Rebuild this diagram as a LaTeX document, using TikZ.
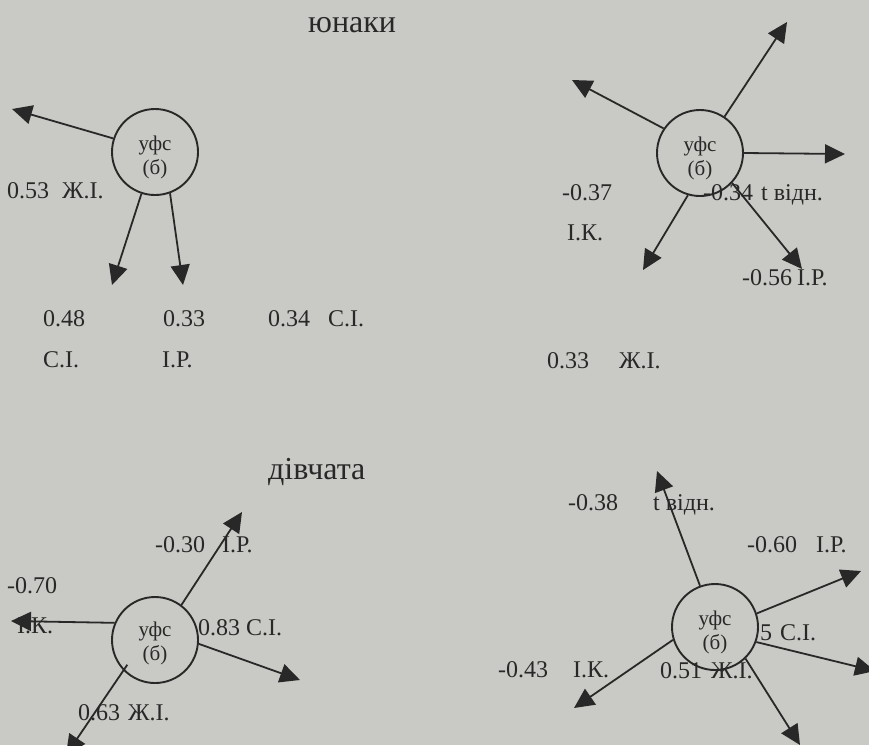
\documentclass[tikz,border=0pt]{standalone}
\usepackage{fontspec}
\setmainfont{Liberation Serif}
\usetikzlibrary{arrows.meta}
\definecolor{paper}{RGB}{201,201,197}
\definecolor{ink}{RGB}{40,40,40}
\begin{document}
\begin{tikzpicture}[x=1pt,y=-1pt,
  hub/.style={circle,draw=ink,line width=1.9pt,minimum size=86pt,inner sep=0pt,
    align=center,font=\fontsize{21}{24}\selectfont,text=ink},
  ray/.style={draw=ink,line width=1.8pt,-{Triangle[length=20pt,width=19pt]}},
  lab/.style={anchor=base west,inner sep=0pt,font=\fontsize{24}{28}\selectfont,text=ink},
  ttl/.style={anchor=base west,inner sep=0pt,font=\fontsize{32}{36}\selectfont,text=ink}]
\fill[paper] (0,0) rectangle (869,745);
\useasboundingbox (0,0) rectangle (869,745);

% titles
\node[ttl] (t1) at (308,32) {юнаки};
\node[ttl] (t2) at (268,479) {дівчата};

% hubs
\node[hub] (c1) at (155,152) {\rule{0pt}{26pt}уфс\\(б)};
\node[hub] (c2) at (700,153) {\rule{0pt}{26pt}уфс\\(б)};
\node[hub] (c3) at (155,640) {\rule{0pt}{22pt}уфс\\(б)};
\node[hub] (c4) at (715,627) {\rule{0pt}{26pt}уфс\\(б)};

% arrow tips
\coordinate (a1) at (12,109);
\coordinate (b1) at (112,285);
\coordinate (e1) at (183,285);
\coordinate (a2) at (572,80);
\coordinate (b2) at (787,22);
\coordinate (e2) at (845,154);
\coordinate (d2) at (643,270);
\coordinate (f2) at (802,269);
\coordinate (a3) at (242,512);
\coordinate (b3) at (11,621);
\coordinate (e3) at (300,680);
\coordinate (d3) at (66,755);
\coordinate (a4) at (657,471);
\coordinate (b4) at (861,571);
\coordinate (e4) at (875,671);
\coordinate (d4) at (574,708);
\coordinate (f4) at (800,745);

% rays
\draw[ray] (c1.162) -- (a1);
\draw[ray] (c1.-108) -- (b1);
\draw[ray] (c1.-70) -- (e1);

\draw[ray] (c2.146) -- (a2);
\draw[ray] (c2.56) -- (b2);
\draw[ray] (c2.0) -- (e2);
\draw[ray] (c2.-106) -- (d2);
\draw[ray] (c2.-43) -- (f2);

\draw[ray] (c3.53) -- (a3);
\draw[ray] (c3.157) -- (b3);
\draw[ray] (c3.-5) -- (e3);
\draw[ray,shorten <=-7pt] (c3.-136) -- (d3);

\draw[ray] (c4.110) -- (a4);
\draw[ray] (c4.18) -- (b4);
\draw[ray] (c4.-20) -- (e4);
\draw[ray] (c4.-163) -- (d4);
\draw[ray] (c4.-46) -- (f4);

% labels: group 1
\node[lab] (l11) at (7,198) {0.53\hspace{13pt}Ж.І.};
\node[lab] (l12) at (43,326) {0.48};
\node[lab] (l13) at (163,326) {0.33};
\node[lab] (l14) at (268,326) {0.34\hspace{18pt}С.І.};
\node[lab] (l15) at (43,367) {С.І.};
\node[lab] (l16) at (162,367) {І.Р.};
% group 2
\node[lab] (l21) at (562,200) {-0.37};
\node[lab] (l22) at (567,240) {І.К.};
\node[lab] (l23) at (703,200) {-0.34\hspace{8pt}t відн.};
\node[lab] (l24) at (742,285) {-0.56\hspace{5pt}І.Р.};
\node[lab] (l25) at (547,368) {0.33\hspace{30pt}Ж.І.};
% group 3
\node[lab] (l31) at (155,552) {-0.30\hspace{17pt}І.Р.};
\node[lab] (l32) at (7,593) {-0.70};
\node[lab] (l33) at (17,633) {І.К.};
\node[lab] (l34) at (198,635) {0.83 С.І.};
\node[lab] (l35) at (78,720) {0.63\hspace{8pt}Ж.І.};
% group 4
\node[lab] (l41) at (568,510) {-0.38};
\node[lab] (l42) at (653,510) {t відн.};
\node[lab] (l43) at (747,552) {-0.60\hspace{19pt}І.Р.};
\node[lab] (l44) at (760,640) {5\hspace{8pt}С.І.};
\node[lab] (l45) at (498,677) {-0.43\hspace{25pt}І.К.};
\node[lab] (l46) at (660,678) {0.51\hspace{9pt}Ж.І.};
\end{tikzpicture}
\end{document}
